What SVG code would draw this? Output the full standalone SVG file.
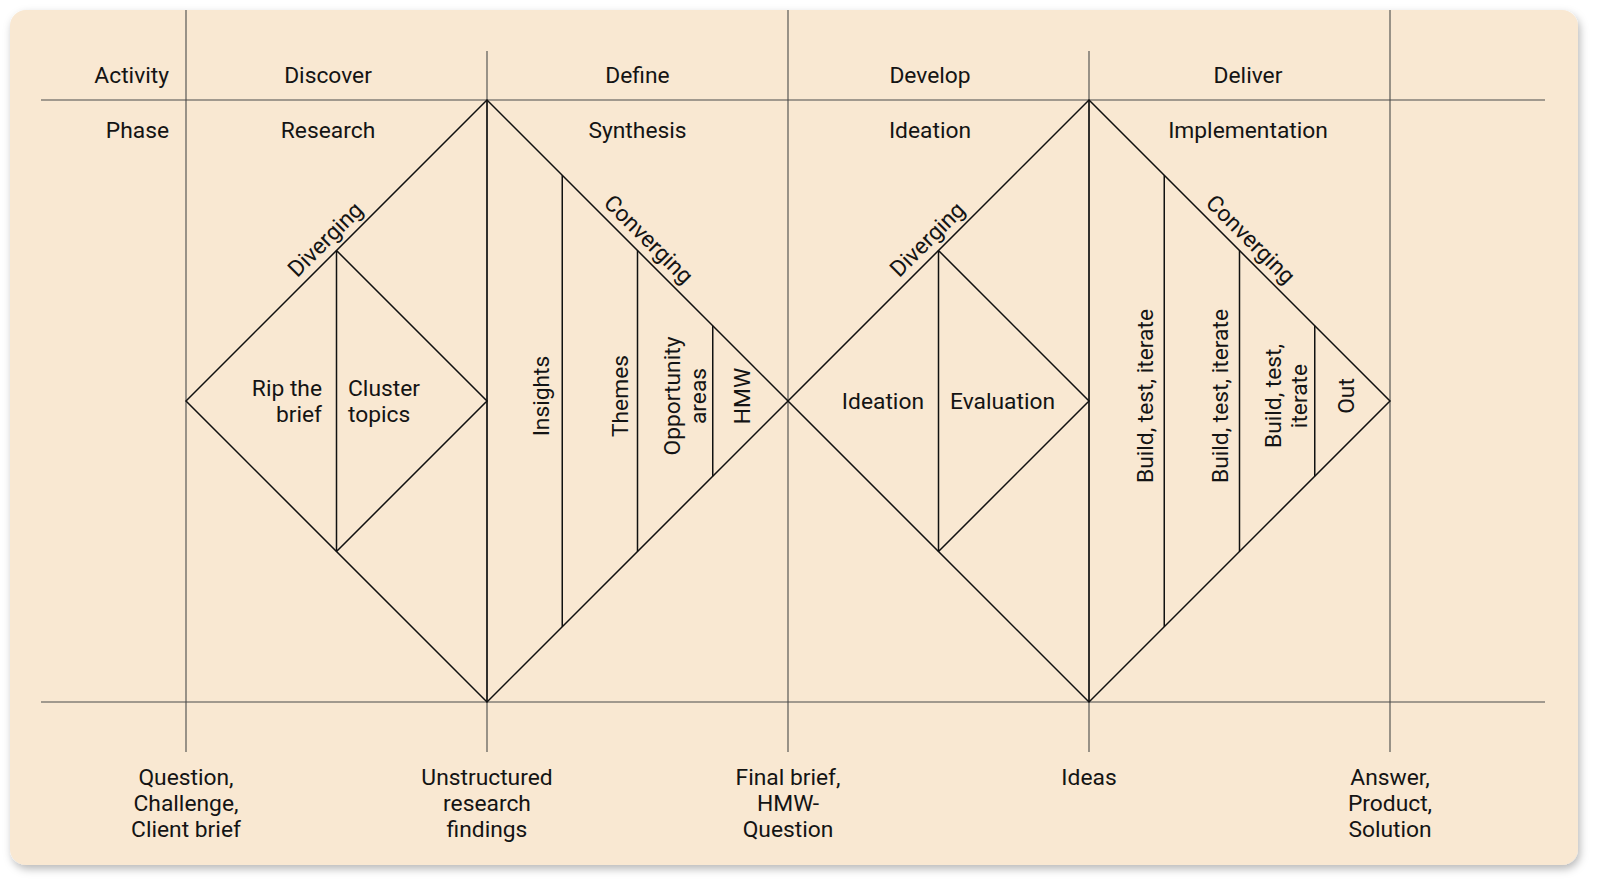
<svg xmlns="http://www.w3.org/2000/svg" width="1600" height="888" viewBox="0 0 1600 888">
<defs>
<filter id="sh" x="-5%" y="-5%" width="110%" height="115%">
<feDropShadow dx="2" dy="4" stdDeviation="4" flood-color="#000" flood-opacity="0.28"/>
</filter>
<style>
text{font-family:Roboto,"Liberation Sans",Arial,sans-serif;font-size:22.8px;fill:#141414}
.m{text-anchor:middle}
.e{text-anchor:end}
.grid{stroke:#4a4a4a;stroke-width:1.1;fill:none}
.d{stroke:#111;stroke-width:1.5;fill:none;stroke-linejoin:miter}
</style>
</defs>
<rect width="1600" height="888" fill="#ffffff"/>
<rect id="card" x="10" y="10" width="1568" height="855" rx="16" fill="#F9E8D2" filter="url(#sh)"/>

<g id="connectors">
<g id="grid">
<line class="grid" x1="41" y1="100" x2="1545" y2="100"/>
<line class="grid" x1="41" y1="702" x2="1545" y2="702"/>
<line class="grid" x1="186" y1="10" x2="186" y2="752"/>
<line class="grid" x1="487" y1="51" x2="487" y2="752"/>
<line class="grid" x1="788" y1="10" x2="788" y2="752"/>
<line class="grid" x1="1089" y1="51" x2="1089" y2="752"/>
<line class="grid" x1="1390" y1="10" x2="1390" y2="752"/>
</g>
<g id="diamond1">
<path class="d" d="M186,401 L487,100 L788,401 L487,702 Z"/>
<path class="d" d="M336.5,250.5 L487,401 L336.5,551.5 M336.5,250.5 V551.5"/>
<path class="d" d="M487,100 V702 M562.25,175.25 V626.75 M637.5,250.5 V551.5 M712.75,325.75 V476.25"/>
</g>
<g id="diamond2">
<path class="d" d="M788,401 L1089,100 L1390,401 L1089,702 Z"/>
<path class="d" d="M938.5,250.5 L1089,401 L938.5,551.5 M938.5,250.5 V551.5"/>
<path class="d" d="M1089,100 V702 M1164.25,175.25 V626.75 M1239.5,250.5 V551.5 M1314.75,325.75 V476.25"/>
</g>
</g>

<g id="header">
<text class="e" x="169" y="83">Activity</text>
<text class="e" x="169" y="138">Phase</text>
<text class="m" x="328" y="83">Discover</text>
<text class="m" x="328" y="138">Research</text>
<text class="m" x="637.5" y="83">Define</text>
<text class="m" x="637.5" y="138">Synthesis</text>
<text class="m" x="930" y="83">Develop</text>
<text class="m" x="930" y="138">Ideation</text>
<text class="m" x="1248" y="83">Deliver</text>
<text class="m" x="1248" y="138">Implementation</text>
</g>

<g id="discover-node">
<text class="m" transform="translate(336.5,250.5) rotate(-45)" y="-8">Diverging</text>
<text class="e" x="322" y="396">Rip the</text>
<text class="e" x="322" y="422">brief</text>
<text x="348" y="396">Cluster</text>
<text x="348" y="422">topics</text>
</g>

<g id="define-node">
<text class="m" transform="translate(637.5,250.5) rotate(45)" y="-8">Converging</text>
<text class="m" transform="translate(549,396) rotate(-90)">Insights</text>
<text class="m" transform="translate(627.5,396) rotate(-90)">Themes</text>
<text class="m" transform="translate(679.5,396) rotate(-90)">Opportunity</text>
<text class="m" transform="translate(705.5,396) rotate(-90)">areas</text>
<text class="m" transform="translate(750,396) rotate(-90)">HMW</text>
</g>

<g id="develop-node">
<text class="m" transform="translate(938.5,250.5) rotate(-45)" y="-8">Diverging</text>
<text class="e" x="924" y="409">Ideation</text>
<text x="950" y="409">Evaluation</text>
</g>

<g id="deliver-node">
<text class="m" transform="translate(1239.5,250.5) rotate(45)" y="-8">Converging</text>
<text class="m" transform="translate(1153,396) rotate(-90)">Build, test, iterate</text>
<text class="m" transform="translate(1228,396) rotate(-90)">Build, test, iterate</text>
<text class="m" transform="translate(1281,396) rotate(-90)">Build, test,</text>
<text class="m" transform="translate(1307,396) rotate(-90)">iterate</text>
<text class="m" transform="translate(1354,396) rotate(-90)">Out</text>
</g>

<g id="milestones">
<text class="m" x="186" y="785">Question,</text>
<text class="m" x="186" y="811">Challenge,</text>
<text class="m" x="186" y="837">Client brief</text>
<text class="m" x="487" y="785">Unstructured</text>
<text class="m" x="487" y="811">research</text>
<text class="m" x="487" y="837">findings</text>
<text class="m" x="788" y="785">Final brief,</text>
<text class="m" x="788" y="811">HMW-</text>
<text class="m" x="788" y="837">Question</text>
<text class="m" x="1089" y="785">Ideas</text>
<text class="m" x="1390" y="785">Answer,</text>
<text class="m" x="1390" y="811">Product,</text>
<text class="m" x="1390" y="837">Solution</text>
</g>
</svg>
